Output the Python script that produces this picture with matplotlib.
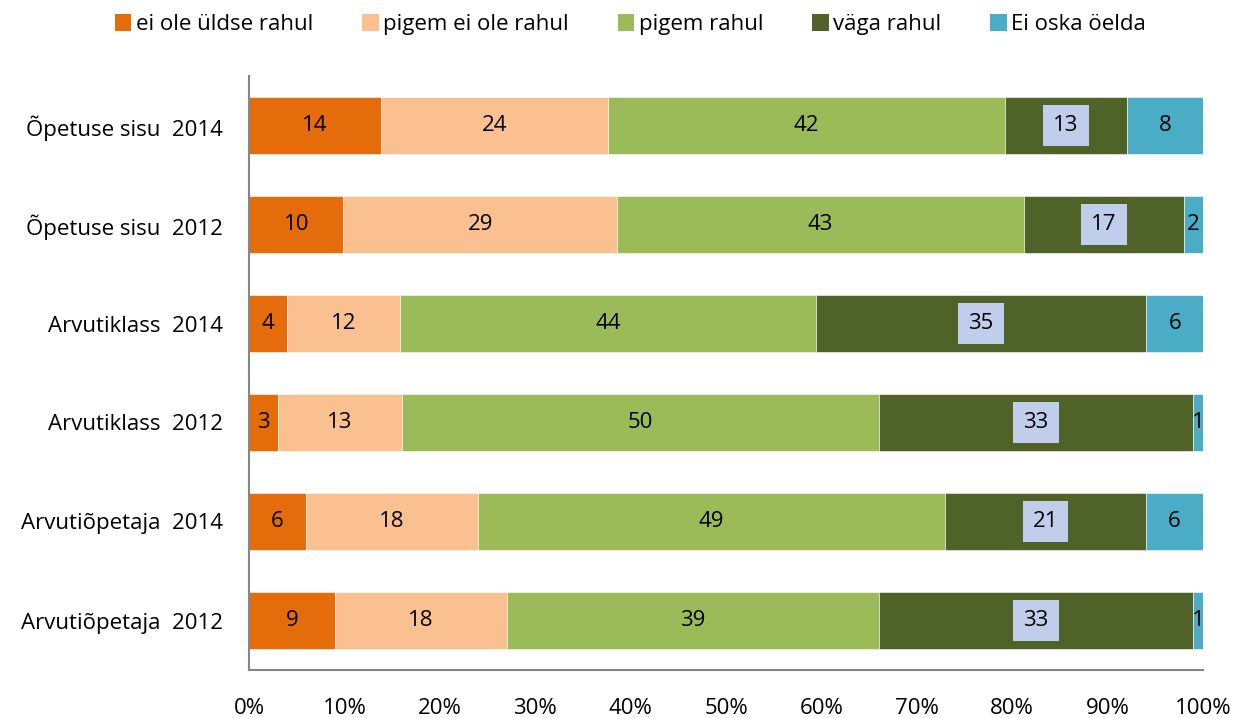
import numpy as np
import matplotlib.pyplot as plt
from matplotlib.patches import Patch

categories = ["Õpetuse sisu  2014", "Õpetuse sisu  2012", "Arvutiklass  2014",
              "Arvutiklass  2012", "Arvutiõpetaja  2014", "Arvutiõpetaja  2012"]
series_names = ["ei ole üldse rahul", "pigem ei ole rahul", "pigem rahul",
                "väga rahul", "Ei oska öelda"]
ei_ole_uldse = [14, 10, 4, 3, 6, 9]
pigem_ei_ole = [24, 29, 12, 13, 18, 18]
pigem_rahul = [42, 43, 44, 50, 49, 39]
vaga_rahul = [13, 17, 35, 33, 21, 33]
ei_oska = [8, 2, 6, 1, 6, 1]
colors = ["#E46C0A", "#FAC090", "#9BBB59", "#4F6228", "#4BACC6"]

plt.rcParams['font.family'] = ['Open Sans', 'DejaVu Sans']
FS = 16

values = np.array([ei_ole_uldse, pigem_ei_ole, pigem_rahul, vaga_rahul, ei_oska], dtype=float)
shares = values / values.sum(axis=0)

fig = plt.figure(figsize=(12.41, 7.18), dpi=100)
ax = fig.add_axes([249 / 1241, 1 - 670 / 718, (1203 - 249) / 1241, (670 - 76) / 718])

y = np.arange(len(categories))
left = np.zeros(len(categories))
for i, name in enumerate(series_names):
    bars = ax.barh(y, shares[i], left=left, height=0.58, color=colors[i],
                   edgecolor="white", linewidth=0.4, label=name)
    for j, b in enumerate(bars):
        cx = left[j] + shares[i][j] / 2
        box = None
        if i == 3:
            # light blue label box on the dark green segments
            box = dict(boxstyle="square,pad=0.45", facecolor="#C0CEEB", edgecolor="none")
        ax.text(cx, y[j], f"{int(values[i][j])}", ha="center", va="center",
                fontsize=FS, color="black", bbox=box)
    left += shares[i]

ax.set_xlim(0, 1)
ax.set_ylim(len(categories) - 0.5, -0.5)
ax.set_yticks(y)
ax.set_yticklabels(categories, fontsize=FS)
ax.set_xticks(np.linspace(0, 1, 11))
ax.set_xticklabels([f"{k}%" for k in range(0, 101, 10)], fontsize=FS)
ax.tick_params(length=0, pad=20, axis="x")
ax.tick_params(length=0, pad=19, axis="y")
for s in ["top", "right"]:
    ax.spines[s].set_visible(False)
for s in ["left", "bottom"]:
    ax.spines[s].set_color("#868686")
    ax.spines[s].set_linewidth(1.5)

handles = [Patch(facecolor=c, edgecolor="none") for c in colors]
fig.legend(handles, series_names, loc="upper center", bbox_to_anchor=(0.508, 1.008),
           ncol=5, frameon=False, fontsize=FS, handlelength=0.75, handleheight=0.75,
           handletextpad=0.2, columnspacing=2.2)

fig.savefig("out.png", dpi=100)
